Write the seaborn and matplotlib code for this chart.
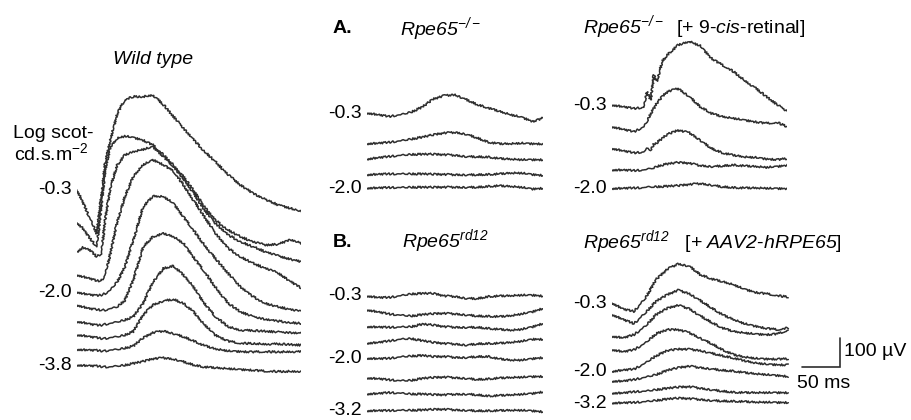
import pandas as pd
import matplotlib
matplotlib.use("Agg")
import matplotlib.pyplot as plt
import seaborn as sns

# sample times (ms)
wt_time = [0, 8, 17, 26, 32, 37, 44, 53, 63, 74, 87, 100, 114, 127, 140, 153,
           166, 182, 199, 215, 232, 248, 265, 281, 296]
ab_time = [0, 15, 29, 44, 58, 73, 87, 102, 116, 131, 145, 160, 174, 189, 203, 218, 232]
cis_time = [0, 15, 29, 42, 46, 51, 55, 59, 66, 73, 87, 102, 116, 131, 145, 160,
            174, 189, 203, 218, 231]

# wild type, brightest flash first (uV, relative to each trace's baseline)
wt_traces = [
    [0, -44, -98, -150, -23, 92, 173, 265, 311, 322, 322, 328, 293, 253, 213, 175, 138, 98, 52, 17, -12, -32, -52, -63, -75],
    [0, -20, -54, -83, 55, 182, 262, 291, 299, 294, 285, 268, 233, 199, 159, 113, 61, 9, -25, -48, -66, -77, -74, -58, -71],
    [0, 15, 6, -17, -6, 109, 224, 299, 334, 345, 353, 362, 328, 293, 253, 204, 150, 98, 58, 35, 17, 0, -15, -26, -35],
    [0, -6, -12, -20, -20, 0, 75, 184, 270, 339, 380, 397, 380, 357, 311, 259, 207, 144, 92, 63, 40, 23, 6, -23, -46],
    [0, -5, -9, -12, -10, -5, 7, 36, 87, 179, 294, 331, 329, 306, 260, 214, 168, 116, 64, 18, -16, -39, -51, -60, -68],
    [0, -6, -12, -15, -17, -17, -12, -6, 17, 86, 201, 236, 247, 236, 213, 167, 121, 63, 6, -23, -40, -49, -55, -60, -63],
    [0, -3, -8, -12, -12, -9, -6, -1, 6, 17, 63, 138, 184, 192, 161, 121, 69, 17, -17, -29, -31, -33, -36, -38, -40],
    [0, -2, -6, -9, -12, -12, -9, -6, 0, 12, 69, 104, 118, 123, 109, 81, 40, 0, -21, -29, -29, -31, -31, -33, -35],
    [0, -1, -2, -3, -5, -5, -2, 0, 5, 12, 40, 58, 64, 55, 44, 30, 15, 2, -5, -7, -8, -8, -8, -7, -8],
    [0, -1, -2, -3, -5, -6, -6, -3, 0, 6, 13, 22, 25, 21, 12, 1, -6, -9, -12, -15, -17, -21, -22, -21, -21],
]
wt_offset = [0, -113, -213, -293, -352, -397, -454, -500, -550, -604]
wt_labels = ["-0.3", "", "", "", "-2.0", "", "", "", "", "-3.8"]

# A. Rpe65-/-
ko_traces = [
    [0, -6, -12, -6, 3, 21, 48, 60, 63, 46, 29, 17, 6, -6, -14, -29, -17],
    [0, 2, 5, 10, 16, 23, 31, 37, 39, 33, 20, 5, 0, 0, 2, 0, 0],
    [0, 5, 9, 13, 16, 17, 17, 15, 13, 9, 8, 7, 2, 0, -2, -2, -2],
    [0, 2, 3, 3, 3, 3, 2, 1, 0, 0, 0, 1, 3, 6, 6, 1, -2],
    [0, 1, 2, 2, 3, 3, 3, 3, 3, 3, 3, 6, 8, 6, 3, -3, 0],
]
ko_offset = [0, -106, -159, -213, -259]
ko_labels = ["-0.3", "", "", "", "-2.0"]

# A. Rpe65-/- + 9-cis-retinal
cis_traces = [
    [0, -6, -12, -8, 46, 17, 104, 81, 150, 173, 207, 219, 204, 161, 138, 115, 86, 58, 29, 0, -23],
    [0, -9, -17, 0, 17, 46, 63, 81, 104, 121, 132, 104, 69, 46, 35, 29, 23, 17, 12, 14, 0],
    [0, -8, -15, -12, 0, -6, 15, 20, 35, 49, 63, 54, 29, 0, -15, -23, -29, -31, -36, -38, -35],
    [0, 0, -2, 0, 2, 5, 7, 12, 17, 21, 26, 23, 15, 12, 14, 17, 14, 12, 9, 12, 17],
    [0, 1, 2, 3, 5, 5, 6, 6, 7, 8, 10, 14, 17, 12, 6, 3, 2, 2, 1, 0, 0],
]
cis_offset = [0, -75, -150, -224, -288]
cis_labels = ["-0.3", "", "", "", "-2.0"]

# B. Rpe65rd12
rd12_traces = [
    [0, -5, -5, 1, 7, 9, 9, 0, -2, -8, -9, -2, 0, 1, 3, 3, 0],
    [0, -7, -14, -18, -21, -16, -13, -12, -14, -17, -21, -22, -23, -20, -14, -6, 6],
    [0, -1, -2, -1, 0, 9, 6, 0, -2, -2, -2, -6, -9, -12, -9, 0, 12],
    [0, 3, 8, 14, 16, 9, 3, -1, -3, -6, -2, -1, 0, 3, 7, 14, 14],
    [0, -1, 0, 5, 8, 10, 6, 6, 3, 3, 6, 6, -2, -6, -6, -1, 3],
    [0, -2, -6, -9, -8, -1, 2, 3, 1, -1, -5, -3, 0, 2, 3, 5, 6],
    [0, 2, 5, 3, 0, 0, -2, -3, -1, 0, -3, -7, -5, -3, -1, 2, 8],
    [0, 1, 1, 2, 2, 3, 5, 5, 3, 2, 0, 0, 1, 2, 2, 0, -3],
]
rd12_offset = [0, -48, -106, -163, -215, -283, -338, -396]
rd12_labels = ["-0.3", "", "", "", "-2.0", "", "", "-3.2"]

# B. Rpe65rd12 + AAV2-hRPE65
aav_traces = [
    [0, -21, -29, 17, 81, 117, 135, 127, 98, 83, 74, 63, 48, 37, 32, 25, 21],
    [0, -17, -31, 6, 46, 69, 84, 72, 49, 23, 0, -17, -31, -40, -47, -52, -46],
    [0, -5, 6, 35, 75, 97, 107, 95, 71, 48, 29, 17, 12, 8, 6, 9, 21],
    [0, -7, 0, 23, 55, 69, 69, 58, 40, 21, 0, -17, -25, -30, -32, -32, -32],
    [0, 5, 8, 29, 54, 72, 77, 76, 72, 63, 54, 46, 37, 29, 25, 23, 23],
    [0, 1, 6, 14, 23, 38, 47, 52, 47, 43, 38, 35, 30, 26, 23, 20, 17],
    [0, 1, 5, 7, 12, 17, 21, 22, 17, 12, 7, 3, 2, 2, 2, 2, 2],
    [0, 1, 2, 5, 9, 14, 17, 15, 12, 9, 7, 6, 5, 3, 3, 2, 2],
]
aav_offset = [0, -40, -115, -161, -236, -270, -311, -345]
aav_labels = ["-0.3", "", "", "", "-2.0", "", "", "-3.2"]

TRACE_COLOR = "#2e2e2e"
MS_PER_PX = 50 / 38     # horizontal scale (50 ms bar)
UV_PER_PX = 100 / 29    # vertical scale (100 uV bar)
W, H = 912, 420
FS = 14

sns.set_style("white")
plt.rcParams["font.family"] = ["Liberation Sans", "DejaVu Sans"]
plt.rcParams["mathtext.fontset"] = "custom"
plt.rcParams["mathtext.rm"] = "Liberation Sans"
plt.rcParams["mathtext.it"] = "Liberation Sans:italic"
plt.rcParams["mathtext.sf"] = "Liberation Sans:italic"
plt.rcParams["mathtext.bf"] = "Liberation Sans:bold"
plt.rcParams["font.size"] = FS
plt.rcParams["text.color"] = "black"

fig = plt.figure(figsize=(W / 100, H / 100), dpi=100)


def make_panel(left, base, width, top, bottom, time, traces, offsets, labels):
    ax = fig.add_axes([left / W, 1 - bottom / H, width / W, (bottom - top) / H])
    rows = []
    for i, (tr, off) in enumerate(zip(traces, offsets)):
        for t, v in zip(time, tr):
            rows.append({"trace": i, "t": t, "uv": v + off})
    df = pd.DataFrame(rows)
    sns.lineplot(data=df, x="t", y="uv", units="trace", estimator=None, sort=False,
                 color=TRACE_COLOR, linewidth=1.1, legend=False, ax=ax)
    # jagged look of the raw recordings
    for line in ax.lines:
        line.set_sketch_params(1.0, 2.0, 2.0)
    for off, lab in zip(offsets, labels):
        if lab:
            ax.text(-7, off, lab, ha="right", va="center", fontsize=FS)
    ax.set_xlim(0, width * MS_PER_PX)
    ax.set_ylim(-(bottom - base) * UV_PER_PX, (base - top) * UV_PER_PX)
    ax.set_axis_off()
    return ax


make_panel(77, 190, 224, 80, 390, wt_time, wt_traces, wt_offset, wt_labels)
make_panel(367, 113, 176, 40, 200, ab_time, ko_traces, ko_offset, ko_labels)
make_panel(612, 105, 175, 30, 200, cis_time, cis_traces, cis_offset, cis_labels)
make_panel(367, 296, 176, 255, 418, ab_time, rd12_traces, rd12_offset, rd12_labels)
ax_b2 = make_panel(612, 303, 240, 255, 418, ab_time, aav_traces, aav_offset, aav_labels)

# scale bar: 50 ms x 100 uV
ax_b2.plot([250, 300, 300], [-220, -220, -120], color=TRACE_COLOR, lw=1.2,
           solid_joinstyle="miter", clip_on=False)
ax_b2.text(305, -168, "100 µV", ha="left", va="center", fontsize=FS)
ax_b2.text(244, -277, "50 ms", ha="left", va="center", fontsize=FS)

# titles and labels
fig.text(153 / W, 1 - 59 / H, "Wild type", style="italic", ha="center", va="center")
fig.text(13 / W, 1 - 133 / H, "Log scot-", ha="left", va="center")
fig.text(14 / W, 1 - 153 / H, r"cd.s.m$^{-2}$", ha="left", va="center")

fig.text(333 / W, 1 - 33 / H, "A.", weight="bold", va="baseline")
fig.text(400 / W, 1 - 35 / H, r"$\mathsf{Rpe65}^{\mathsf{-/-}}$", va="baseline")
fig.text(583 / W, 1 - 33 / H, r"$\mathsf{Rpe65}^{\mathsf{-/-}}$  [+ 9-$\mathsf{cis}$-retinal]",
         va="baseline")
fig.text(333 / W, 1 - 247 / H, "B.", weight="bold", va="baseline")
fig.text(402 / W, 1 - 247 / H, r"$\mathsf{Rpe65}^{\mathsf{rd12}}$", va="baseline")
fig.text(583 / W, 1 - 248 / H,
         r"$\mathsf{Rpe65}^{\mathsf{rd12}}$   [+ $\mathsf{AAV2}$-$\mathsf{hRPE65}$]",
         va="baseline")

plt.savefig("out.png", dpi=100)
